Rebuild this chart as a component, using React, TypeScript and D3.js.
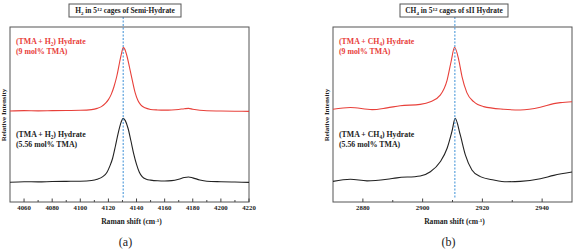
import React from "react";
import * as d3 from "d3";

// Raman spectra: [wavenumber (cm-1), relative intensity]
const h2Red: [number, number][] = [
  [4050, 52.0], [4060, 52.2], [4070, 52.1], [4080, 52.2], [4090, 52.3], [4100, 52.4],
  [4108, 52.8], [4112, 53.5], [4115, 54.5], [4118, 56.5], [4120, 58.5], [4122, 61.5],
  [4124, 66], [4126, 72], [4128, 80], [4129.5, 85.5], [4130.5, 88.2], [4131.5, 87.5],
  [4133, 84], [4135, 77], [4137, 69.5], [4139, 62.5], [4141, 58], [4143, 55.5],
  [4146, 53.8], [4150, 52.9], [4155, 52.6], [4160, 52.5], [4165, 52.6], [4170, 52.9],
  [4174, 53.3], [4177, 53.5], [4180, 53.0], [4185, 52.4], [4190, 52.1], [4200, 52.0],
  [4210, 51.9], [4220, 51.8],
];
const h2Black: [number, number][] = [
  [4050, 11.3], [4060, 11.6], [4070, 11.5], [4080, 11.7], [4090, 11.8], [4100, 11.9],
  [4108, 12.3], [4112, 13.0], [4116, 14.5], [4119, 17], [4121, 20.5], [4123, 25],
  [4125, 32], [4127, 39.5], [4129, 45.5], [4130.5, 47.8], [4132, 46.5], [4134, 42],
  [4136, 35], [4138, 27.5], [4140, 21.5], [4142, 17], [4144, 14.5], [4147, 13],
  [4150, 12.5], [4155, 12.1], [4160, 12.0], [4165, 12.2], [4170, 13.0], [4174, 14.0],
  [4177, 14.3], [4180, 13.8], [4185, 12.6], [4190, 11.9], [4200, 11.6], [4210, 11.4],
  [4220, 11.2],
];
const ch4Red: [number, number][] = [
  [2870, 53.0], [2875.8, 54.0], [2883.1, 52.8], [2888.1, 53.8], [2892.5, 55.0],
  [2899.2, 55.8], [2902.6, 57.3], [2905.9, 61.1], [2908.2, 69.7], [2909.5, 80.0],
  [2910.7, 88.4], [2912.1, 81.1], [2913.2, 71.5], [2914.8, 62.5], [2917.1, 57.3],
  [2920.4, 54.5], [2927.1, 53.0], [2932.7, 52.6], [2939.4, 54.1], [2943.9, 56.2],
  [2946.1, 56.8], [2950, 57.3],
];
const ch4Black: [number, number][] = [
  [2870, 11.8], [2875.8, 13.0], [2881.4, 12.1], [2888.1, 13.0], [2891.4, 13.8],
  [2899.2, 14.9], [2902.6, 17.3], [2905.9, 23.0], [2908.2, 30.7], [2909.8, 40.2],
  [2910.9, 47.8], [2912.6, 38.3], [2914.3, 26.9], [2916.5, 18.3], [2919.3, 14.5],
  [2923.8, 12.6], [2928.2, 11.6], [2932.7, 11.8], [2939.4, 13.3], [2943.9, 15.2],
  [2950, 17.1],
];

const h2Ticks = [4060, 4080, 4100, 4120, 4140, 4160, 4180, 4200, 4220];
const h2Minor = [4070, 4090, 4110, 4130, 4150, 4170, 4190, 4210];
const ch4Ticks = [2880, 2900, 2920, 2940];
const ch4Minor = [2890, 2910, 2930];

const RED = "#e8403a";
const INK = "#222";
const FONT = '"Liberation Serif", "DejaVu Serif", serif';

type PanelProps = {
  left: number;
  right: number;
  domain: [number, number];
  ticks: number[];
  minor: number[];
  red: [number, number][];
  black: [number, number][];
  marker: number;
  boxX: [number, number];
  gas: string;
  gasSub: string;
  cage: string;
  letter: string;
};

const TOP = 27;
const BOTTOM = 202;

function Panel(p: PanelProps) {
  const x = d3.scaleLinear().domain(p.domain).range([p.left, p.right]);
  const y = d3.scaleLinear().domain([0, 100]).range([BOTTOM, TOP]);
  const line = d3
    .line<[number, number]>()
    .x((d) => x(d[0]))
    .y((d) => y(d[1]))
    .curve(d3.curveMonotoneX);
  const cx = (p.left + p.right) / 2;
  const mx = x(p.marker);
  const gasLabel = (fill: string, yy: number, mol: string) => (
    <g fill={fill} fontWeight="bold" style={{ fontSize: "7.8px" }}>
      <text x={p.left + 6} y={yy}>
        {"(TMA + " + p.gas}
        <tspan style={{ fontSize: "5.2px" }} dy={1.8}>{p.gasSub}</tspan>
        <tspan dy={-1.8}>{") Hydrate"}</tspan>
      </text>
      <text x={p.left + 6} y={yy + 9.5}>{"(" + mol + " mol% TMA)"}</text>
    </g>
  );
  return (
    <g style={{ fontFamily: FONT }}>
      <rect
        x={p.left}
        y={TOP}
        width={p.right - p.left}
        height={BOTTOM - TOP}
        fill="none"
        stroke="#555"
        strokeWidth={1}
      />
      {p.ticks.map((t) => (
        <g key={"t" + t}>
          <line x1={x(t)} x2={x(t)} y1={BOTTOM} y2={BOTTOM - 3.5} stroke="#444" />
          <text x={x(t)} y={210} textAnchor="middle" fontWeight="bold" fill={INK} style={{ fontSize: "6.8px" }}>
            {t}
          </text>
        </g>
      ))}
      {p.minor.map((t) => (
        <line key={"m" + t} x1={x(t)} x2={x(t)} y1={BOTTOM} y2={BOTTOM - 2} stroke="#444" />
      ))}
      <path d={line(p.red) ?? ""} fill="none" stroke={RED} strokeWidth={1.1} />
      <path d={line(p.black) ?? ""} fill="none" stroke={INK} strokeWidth={1.1} />
      <line
        x1={mx}
        x2={mx}
        y1={17}
        y2={BOTTOM - 4}
        stroke="#3a8fd6"
        strokeWidth={1}
        strokeDasharray="2,1.5"
      />
      <rect
        x={p.boxX[0]}
        y={4}
        width={p.boxX[1] - p.boxX[0]}
        height={13}
        fill="#fff"
        stroke="#555"
        strokeWidth={1}
      />
      <text
        x={(p.boxX[0] + p.boxX[1]) / 2}
        y={13.2}
        textAnchor="middle"
        fontWeight="bold"
        fill={INK}
        style={{ fontSize: "7.4px" }}
      >
        {p.gas}
        <tspan style={{ fontSize: "5px" }} dy={1.6}>{p.gasSub}</tspan>
        <tspan dy={-1.6}>{" in 5"}</tspan>
        <tspan style={{ fontSize: "5px" }} dy={-2.6}>12</tspan>
        <tspan dy={2.6}>{" cages of " + p.cage}</tspan>
      </text>
      {gasLabel(RED, 44, "9")}
      {gasLabel(INK, 137, "5.56")}
      <text
        transform={`translate(${p.left - 4},115) rotate(-90)`}
        textAnchor="middle"
        fontWeight="bold"
        fill={INK}
        style={{ fontSize: "7px" }}
      >
        Relative Intensity
      </text>
      <text x={cx + 2} y={224} textAnchor="middle" fontWeight="bold" fill={INK} style={{ fontSize: "7.6px" }}>
        {"Raman shift (cm"}
        <tspan style={{ fontSize: "5px" }} dy={-2.5}>-1</tspan>
        <tspan dy={2.5}>)</tspan>
      </text>
      <text x={cx - 4} y={246} textAnchor="middle" fill={INK} style={{ fontSize: "12px" }}>
        {p.letter}
      </text>
    </g>
  );
}

export default function App() {
  return (
    <svg
      width={574}
      height={251}
      style={{ position: "absolute", left: 0, top: 0, background: "#fff" }}
    >
      <rect width={574} height={251} fill="#fff" />
      <Panel
        left={10}
        right={249}
        domain={[4050, 4220]}
        ticks={h2Ticks}
        minor={h2Minor}
        red={h2Red}
        black={h2Black}
        marker={4130.5}
        boxX={[69, 181]}
        gas="H"
        gasSub="2"
        cage="Semi-Hydrate"
        letter="(a)"
      />
      <Panel
        left={333}
        right={572}
        domain={[2870, 2950]}
        ticks={ch4Ticks}
        minor={ch4Minor}
        red={ch4Red}
        black={ch4Black}
        marker={2910.8}
        boxX={[400, 508]}
        gas="CH"
        gasSub="4"
        cage="sII Hydrate"
        letter="(b)"
      />
    </svg>
  );
}
